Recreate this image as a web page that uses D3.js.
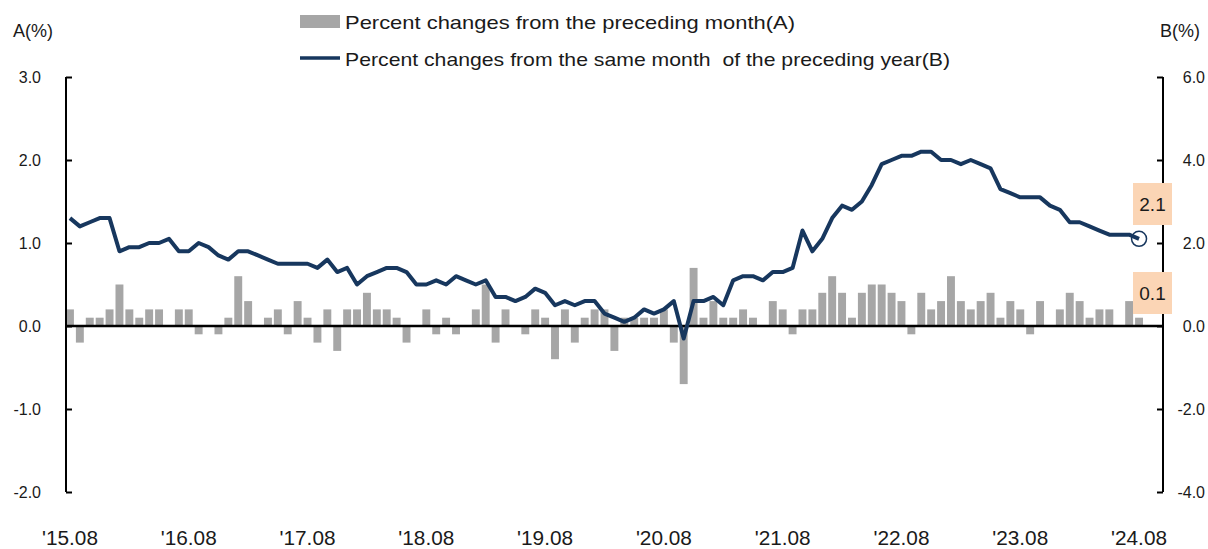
<!DOCTYPE html>
<html>
<head>
<meta charset="utf-8">
<script src="https://cdn.jsdelivr.net/npm/d3@7"></script>
<style>
  body { margin: 0; background: #fff; }
  text { font-family: "Liberation Sans Narrow", "Arial Narrow", "Liberation Sans", Arial, sans-serif; fill: #1a1a1a; }
</style>
</head>
<body>
<div id="chart"></div>
<script>
////////////////////////////////////////////////////////////////////////
// Data: monthly, 2015.08 .. 2024.08

// month-on-month change, left axis (A)
let momChange = [
  0.2, -0.2, 0.1, 0.1, 0.2, 0.5, 0.2, 0.1, 0.2, 0.2, 0.0, 0.2,
  0.2, -0.1, 0.0, -0.1, 0.1, 0.6, 0.3, 0.0, 0.1, 0.2, -0.1, 0.3,
  0.1, -0.2, 0.2, -0.3, 0.2, 0.2, 0.4, 0.2, 0.2, 0.1, -0.2, 0.0,
  0.2, -0.1, 0.1, -0.1, 0.0, 0.2, 0.5, -0.2, 0.2, 0.0, -0.1, 0.2,
  0.1, -0.4, 0.2, -0.2, 0.1, 0.2, 0.2, -0.3, 0.1, 0.1, 0.1, 0.1,
  0.2, -0.2, -0.7, 0.7, 0.1, 0.3, 0.1, 0.1, 0.2, 0.1, 0.0, 0.3,
  0.2, -0.1, 0.2, 0.2, 0.4, 0.6, 0.4, 0.1, 0.4, 0.5, 0.5, 0.4,
  0.3, -0.1, 0.4, 0.2, 0.3, 0.6, 0.3, 0.2, 0.3, 0.4, 0.1, 0.3,
  0.2, -0.1, 0.3, 0.0, 0.2, 0.4, 0.3, 0.1, 0.2, 0.2, 0.0, 0.3,
  0.1
];

// year-on-year change, right axis (B)
let yoyChange = [
  2.6, 2.4, 2.5, 2.6, 2.6, 1.8, 1.9, 1.9, 2.0, 2.0, 2.1, 1.8,
  1.8, 2.0, 1.9, 1.7, 1.6, 1.8, 1.8, 1.7, 1.6, 1.5, 1.5, 1.5,
  1.5, 1.4, 1.6, 1.3, 1.4, 1.0, 1.2, 1.3, 1.4, 1.4, 1.3, 1.0,
  1.0, 1.1, 1.0, 1.2, 1.1, 1.0, 1.1, 0.7, 0.7, 0.6, 0.7, 0.9,
  0.8, 0.5, 0.6, 0.5, 0.6, 0.6, 0.3, 0.2, 0.1, 0.2, 0.4, 0.3,
  0.4, 0.6, -0.3, 0.6, 0.6, 0.7, 0.5, 1.1, 1.2, 1.2, 1.1, 1.3,
  1.3, 1.4, 2.3, 1.8, 2.1, 2.6, 2.9, 2.8, 3.0, 3.4, 3.9, 4.0,
  4.1, 4.1, 4.2, 4.2, 4.0, 4.0, 3.9, 4.0, 3.9, 3.8, 3.3, 3.2,
  3.1, 3.1, 3.1, 2.9, 2.8, 2.5, 2.5, 2.4, 2.3, 2.2, 2.2, 2.2,
  2.1
];

// category keys, one per month
let months = d3.timeMonths(new Date(2015, 7, 1), new Date(2024, 8, 1))
  .map(d3.timeFormat("%y.%m"));

// x labels shown every August
let xTickLabels = ["'15.08", "'16.08", "'17.08", "'18.08", "'19.08",
                   "'20.08", "'21.08", "'22.08", "'23.08", "'24.08"];
let leftTicks = [-2, -1, 0, 1, 2, 3];
let rightTicks = [-4, -2, 0, 2, 4, 6];

let legendNames = ["Percent changes from the preceding month(A)",
                   "Percent changes from the same month  of the preceding year(B)"];

////////////////////////////////////////////////////////////////////////
// svg + scales

let width = 1208, height = 549;
let plotLeft = 66, plotRight = 1163, plotTop = 77, plotBottom = 492;
let barColor = "#a6a6a6", lineColor = "#17375e";

// plain hyphen for negatives, like the source
let fmt = function(d) { return d.toFixed(1); };

let svg = d3.select("#chart").append("svg")
  .attr("width", width).attr("height", height);

let x = d3.scaleBand()
  .domain(months)
  .range([plotLeft, 1143])
  .paddingInner(0.2)
  .paddingOuter(0);

let yA = d3.scaleLinear().domain([-2, 3]).range([plotBottom, plotTop]);
let yB = d3.scaleLinear().domain([-4, 6]).range([plotBottom, plotTop]);

// bars
svg.append("g")
  .selectAll("rect")
  .data(momChange)
  .enter()
  .append("rect")
  .attr("x", function(d, i) { return x(months[i]); })
  .attr("width", x.bandwidth())
  .attr("y", function(d) { return yA(Math.max(0, d)); })
  .attr("height", function(d) { return Math.abs(yA(d) - yA(0)); })
  .style("fill", barColor);

// zero line
svg.append("line")
  .attr("x1", plotLeft).attr("x2", plotRight)
  .attr("y1", yA(0)).attr("y2", yA(0))
  .style("stroke", "#000").style("stroke-width", 2.5);

// left axis, ticks pointing inward
let axisL = svg.append("g")
  .attr("transform", "translate(" + plotLeft + ",0)")
  .call(d3.axisRight(yA).tickValues(leftTicks).tickSize(6).tickFormat(""));
axisL.select(".domain").attr("d", "M0," + plotTop + "V" + plotBottom).style("stroke-width", 2);
axisL.selectAll(".tick line").style("stroke-width", 2);

svg.append("g").selectAll("text")
  .data(leftTicks).enter().append("text")
  .attr("x", 41).attr("y", function(d) { return yA(d); })
  .attr("dy", "0.35em")
  .attr("text-anchor", "end")
  .style("font-size", "16px")
  .text(fmt);

// right axis
let axisR = svg.append("g")
  .attr("transform", "translate(" + plotRight + ",0)")
  .call(d3.axisLeft(yB).tickValues(rightTicks).tickSize(6).tickFormat(""));
axisR.select(".domain").attr("d", "M0," + plotTop + "V" + plotBottom).style("stroke-width", 2);
axisR.selectAll(".tick line").style("stroke-width", 2);

svg.append("g").selectAll("text")
  .data(rightTicks).enter().append("text")
  .attr("x", 1205).attr("y", function(d) { return yB(d); })
  .attr("dy", "0.35em")
  .attr("text-anchor", "end")
  .style("font-size", "16px")
  .text(fmt);

// unit labels
svg.append("text").attr("x", 13).attr("y", 37).style("font-size", "18px").text("A(%)");
svg.append("text").attr("x", 1160).attr("y", 37).style("font-size", "18px").text("B(%)");

// x labels (every 12th month)
svg.append("g").selectAll("text")
  .data(xTickLabels).enter().append("text")
  .attr("x", function(d, i) { return x(months[i * 12]) + x.bandwidth() / 2; })
  .attr("y", 545)
  .attr("text-anchor", "middle")
  .attr("textLength", 56)
  .attr("lengthAdjust", "spacingAndGlyphs")
  .style("font-size", "20px")
  .text(function(d) { return d; });

// yoy line
let line = d3.line()
  .x(function(d, i) { return x(months[i]) + x.bandwidth() / 2; })
  .y(function(d) { return yB(d); });

svg.append("path")
  .datum(yoyChange)
  .attr("d", line)
  .style("fill", "none")
  .style("stroke", lineColor)
  .style("stroke-width", 4)
  .style("stroke-linejoin", "round");

// marker on last point
let lastI = months.length - 1;
let lastX = x(months[lastI]) + x.bandwidth() / 2;
svg.append("circle")
  .attr("cx", lastX).attr("cy", yB(yoyChange[lastI]))
  .attr("r", 7.5)
  .style("fill", "none").style("stroke", lineColor).style("stroke-width", 1.5);

// value call-outs
function callout(cy, label) {
  svg.append("rect")
    .attr("x", 1133).attr("y", cy - 21)
    .attr("width", 39).attr("height", 42)
    .style("fill", "#fbd5b5");
  svg.append("text")
    .attr("x", 1152.5).attr("y", cy)
    .attr("dy", "0.35em")
    .attr("text-anchor", "middle")
    .style("font-size", "19px")
    .text(label);
}
callout(204, fmt(yoyChange[lastI]));
callout(293, fmt(momChange[lastI]));

// legend
svg.append("rect")
  .attr("x", 300).attr("y", 15).attr("width", 40).attr("height", 13)
  .style("fill", barColor);
svg.append("line")
  .attr("x1", 300).attr("x2", 340).attr("y1", 58).attr("y2", 58)
  .style("stroke", lineColor).style("stroke-width", 3.5);

svg.append("text")
  .attr("x", 345).attr("y", 29)
  .attr("textLength", 450).attr("lengthAdjust", "spacingAndGlyphs")
  .style("font-size", "19px")
  .text(legendNames[0]);
svg.append("text")
  .attr("x", 345).attr("y", 66)
  .attr("textLength", 605).attr("lengthAdjust", "spacingAndGlyphs")
  .style("font-size", "19px").style("white-space", "pre")
  .text(legendNames[1]);
</script>
</body>
</html>
